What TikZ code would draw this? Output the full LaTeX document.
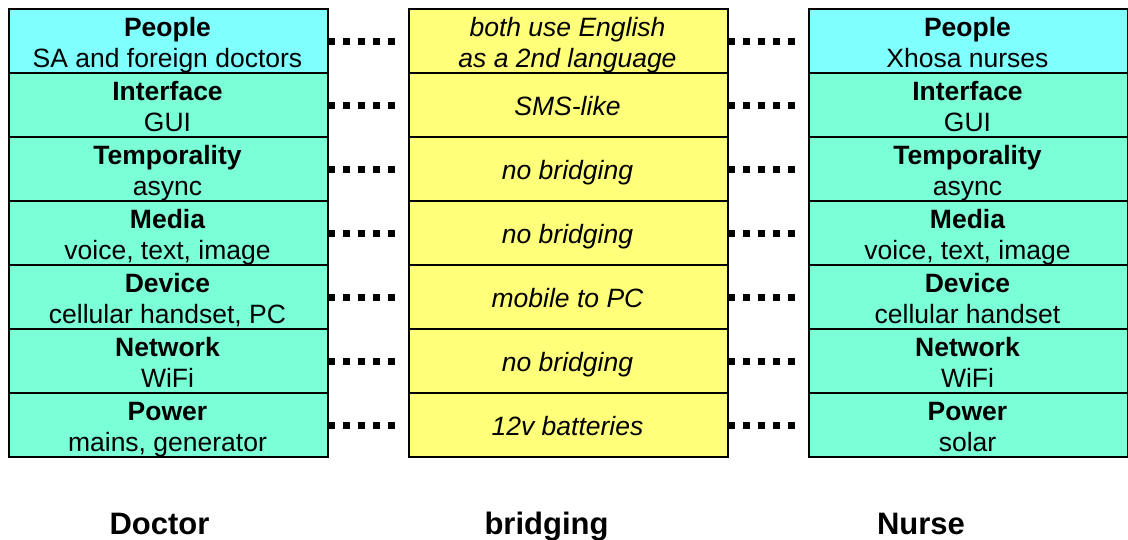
\documentclass[tikz,border=0pt]{standalone}
\usepackage{fontspec}
\setmainfont{Liberation Sans}
\definecolor{cyanrow}{RGB}{128,255,255}
\definecolor{greenrow}{RGB}{122,255,214}
\definecolor{yellowrow}{RGB}{255,255,122}
\begin{document}
\begin{tikzpicture}[x=1pt,y=-1pt,
  cell/.style={draw=black,line width=2pt,minimum width=319pt,minimum height=64pt,inner sep=0pt,anchor=north west},
  celltext/.style={inner sep=0pt,anchor=base,font=\fontsize{26.5}{30}\selectfont},
  titletext/.style={celltext,font=\fontsize{26.5}{30}\selectfont\bfseries},
  midtext/.style={celltext,font=\fontsize{26.5}{30}\selectfont\itshape},
  bottomtext/.style={inner sep=0pt,anchor=base,font=\fontsize{31}{36}\selectfont\bfseries},
  dots/.style={line width=7pt,dash pattern=on 7pt off 8pt,shorten <=-1pt,shorten >=7pt}]
\useasboundingbox (0,0) rectangle (1128,539);
% rows
\foreach \i/\t/\l/\r/\m/\c in {
  1/People/SA and foreign doctors/Xhosa nurses/{}/cyanrow,
  2/Interface/GUI/GUI/SMS-like/greenrow,
  3/Temporality/async/async/no bridging/greenrow,
  4/Media/{voice, text, image}/{voice, text, image}/no bridging/greenrow,
  5/Device/{cellular handset, PC}/cellular handset/mobile to PC/greenrow,
  6/Network/WiFi/WiFi/no bridging/greenrow,
  7/Power/{mains, generator}/solar/12v batteries/greenrow}{
  \pgfmathsetmacro{\top}{8+64*(\i-1)}
  \node[cell,fill=\c] (L\i) at (8,\top) {};
  \node[cell,fill=yellowrow] (M\i) at (408,\top) {};
  \node[cell,fill=\c] (R\i) at (808,\top) {};
  \node[titletext] (Lt\i) at (167.5,\top+28.5) {\t};
  \node[celltext] (Ls\i) at (167.5,\top+59) {\l};
  \node[titletext] (Rt\i) at (967.5,\top+28.5) {\t};
  \node[celltext] (Rs\i) at (967.5,\top+59) {\r};
  \node[midtext] (Mt\i) at (567.5,\top+43) {\m};
  \draw[dots] (L\i.east) -- (M\i.west);
  \draw[dots] (M\i.east) -- (R\i.west);
}
\node[midtext] (Ma) at (567.5,36.5) {both use English};
\node[midtext] (Mb) at (567.5,67) {as a 2nd language};
\node[bottomtext] (doc) at (159.5,534) {Doctor};
\node[bottomtext] (bri) at (546.5,534) {bridging};
\node[bottomtext] (nur) at (921,534) {Nurse};
\end{tikzpicture}
\end{document}
